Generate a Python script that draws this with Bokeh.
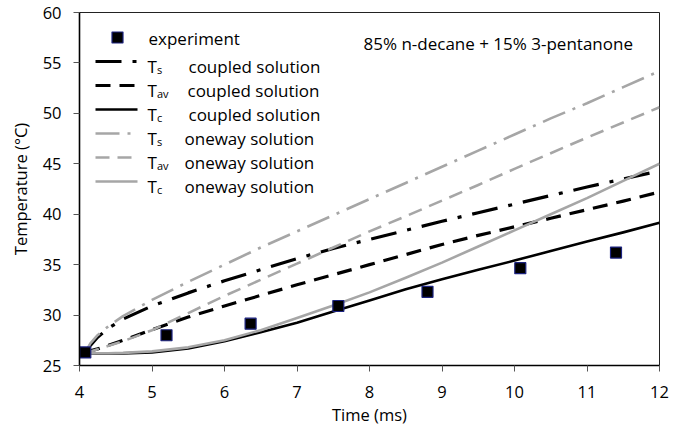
from bokeh.plotting import figure
from bokeh.models import Range1d, Label, FixedTicker, Title
from bokeh.embed import file_html
from bokeh.resources import INLINE

# Time axis (ms) shared by all simulated curves
t_sim = [4.08, 4.15, 4.25, 4.4, 4.6, 5.0, 5.5, 6.0, 6.5, 7.0, 7.5,
         8.0, 8.5, 9.0, 9.5, 10.0, 10.5, 11.0, 11.5, 12.0]

# Coupled solution (°C)
ts_coupled = [26.3, 27.0, 27.8, 28.7, 29.6, 30.9, 32.2, 33.4, 34.5, 35.6, 36.6,
              37.5, 38.4, 39.3, 40.15, 41.0, 41.85, 42.7, 43.5, 44.3]
tav_coupled = [26.3, 26.45, 26.65, 27.0, 27.5, 28.55, 29.8, 30.9, 31.95, 33.0, 34.0,
               35.0, 36.0, 37.0, 37.9, 38.75, 39.6, 40.45, 41.3, 42.2]
tc_coupled = [26.3, 26.22, 26.2, 26.2, 26.2, 26.3, 26.7, 27.4, 28.3, 29.25, 30.35,
              31.45, 32.55, 33.55, 34.5, 35.4, 36.35, 37.3, 38.2, 39.15]

# One-way solution (°C)
ts_oneway = [26.3, 27.2, 28.0, 28.9, 29.9, 31.5, 33.3, 35.0, 36.7, 38.3, 39.9,
             41.5, 43.1, 44.7, 46.3, 47.9, 49.5, 51.0, 52.6, 54.2]
tav_oneway = [26.3, 26.4, 26.6, 26.95, 27.4, 28.5, 30.2, 31.9, 33.5, 35.1, 36.7,
              38.3, 39.8, 41.35, 42.9, 44.5, 46.05, 47.6, 49.1, 50.6]
tc_oneway = [26.3, 26.25, 26.22, 26.22, 26.25, 26.4, 26.8, 27.5, 28.5, 29.7, 30.95,
             32.25, 33.7, 35.2, 36.8, 38.4, 40.0, 41.6, 43.3, 45.0]

# Measured temperatures
t_exp = [4.08, 5.2, 6.36, 7.57, 8.8, 10.08, 11.4]
temp_exp = [26.3, 28.0, 29.15, 30.9, 32.3, 34.65, 36.2]

x_ticks = [4, 5, 6, 7, 8, 9, 10, 11, 12]
y_ticks = [25, 30, 35, 40, 45, 50, 55, 60]

X0, X1, Y0, Y1 = 4, 12, 25, 60
W, H = 688, 430
LEFT, RIGHT, TOP, BOTTOM = 79, 29, 12, 65

BLACK = "#000000"
GREY = "#a6a6a6"
FONT = "Open Sans"
TXT = "17px"

p = figure(width=W, height=H, output_backend="svg", toolbar_location=None,
           x_range=Range1d(X0, X1), y_range=Range1d(Y0, Y1),
           min_border_left=LEFT, min_border_right=RIGHT,
           min_border_top=TOP, min_border_bottom=BOTTOM)
p.background_fill_color = "white"
p.border_fill_color = "white"
p.outline_line_color = "#222222"
p.outline_line_width = 1
p.xgrid.visible = False
p.ygrid.visible = False

fw = W - LEFT - RIGHT
fh = H - TOP - BOTTOM


def sx(px):
    """Canvas pixel column -> data x."""
    return X0 + (px - LEFT) / fw * (X1 - X0)


def sy(py):
    """Canvas pixel row -> data y."""
    return Y0 + (TOP + fh - py) / fh * (Y1 - Y0)


for ax in (p.xaxis[0], p.yaxis[0]):
    ax.axis_line_color = BLACK
    ax.axis_line_width = 1.6
    ax.major_tick_line_color = "#555555"
    ax.major_tick_line_width = 1
    ax.major_tick_out = 6
    ax.major_tick_in = 0
    ax.minor_tick_line_color = None
    ax.major_label_text_font = FONT
    ax.major_label_text_font_size = "16.5px"
    ax.major_label_text_color = BLACK

p.xaxis.ticker = FixedTicker(ticks=x_ticks)
p.yaxis.ticker = FixedTicker(ticks=y_ticks)
p.xaxis.major_label_standoff = 14
p.yaxis.major_label_standoff = 12

p.yaxis.axis_label = "Temperature (°C)"
p.yaxis.axis_label_text_font = FONT
p.yaxis.axis_label_text_font_size = "16.5px"
p.yaxis.axis_label_text_font_style = "normal"
p.yaxis.axis_label_text_color = BLACK
p.yaxis.axis_label_standoff = 8

# x axis title, placed a little right of the frame centre
p.add_layout(Title(text="Time (ms)", align="center", offset=13,
                   text_font=FONT, text_font_size="16.5px",
                   text_font_style="normal", text_color=BLACK,
                   standoff=0), "below")

# Simulated curves: coupled (black) then one-way (grey)
styles = [
    (ts_coupled, BLACK, 3.2, "26 11 4 11"),
    (tav_coupled, BLACK, 3.2, "15 9"),
    (tc_coupled, BLACK, 2.6, "solid"),
    (ts_oneway, GREY, 2.6, "24 8 3 8"),
    (tav_oneway, GREY, 2.6, "14 8"),
    (tc_oneway, GREY, 2.6, "solid"),
]
for series, color, lw, dash in styles:
    p.line(t_sim, series, line_color=color, line_width=lw, line_dash=dash,
           line_cap="butt", line_join="round")

p.scatter(t_exp, temp_exp, marker="square", size=11, fill_color=BLACK,
          line_color="#1c2380", line_width=1.2)

# Hand-built legend: keys plus labels with subscripts
key_x0, key_x1 = 95, 137
p.scatter([sx(117)], [sy(37)], marker="square", size=11, fill_color=BLACK,
          line_color="#1c2380", line_width=1.2)
p.add_layout(Label(x=sx(148), y=sy(38), text="experiment", text_font=FONT,
                   text_font_size=TXT, text_color=BLACK,
                   text_baseline="alphabetic"))

rows = [
    ("s", "coupled solution", 188),
    ("av", "coupled solution", 187),
    ("c", "coupled solution", 188),
    ("s", "oneway solution", 184),
    ("av", "oneway solution", 184),
    ("c", "oneway solution", 184),
]
for i, ((series, color, lw, dash), (sub, phrase, px_phrase)) in enumerate(zip(styles, rows)):
    ly = 61 + 24 * i
    p.line([sx(key_x0), sx(key_x1)], [sy(ly), sy(ly)], line_color=color,
           line_width=lw, line_dash=dash, line_cap="butt")
    base = ly + 4.5
    p.add_layout(Label(x=sx(147), y=sy(base), text="T", text_font=FONT,
                       text_font_size=TXT, text_color=BLACK,
                       text_baseline="alphabetic"))
    p.add_layout(Label(x=sx(156.5), y=sy(base + 3), text=sub, text_font=FONT,
                       text_font_size="11px", text_color=BLACK,
                       text_baseline="alphabetic"))
    p.add_layout(Label(x=sx(px_phrase), y=sy(base), text=phrase, text_font=FONT,
                       text_font_size=TXT, text_color=BLACK,
                       text_baseline="alphabetic"))

p.add_layout(Label(x=sx(363), y=sy(43), text="85% n-decane + 15% 3-pentanone",
                   text_font=FONT, text_font_size=TXT, text_color=BLACK,
                   text_baseline="alphabetic"))

open("out.html", "w").write(file_html(p, INLINE))
